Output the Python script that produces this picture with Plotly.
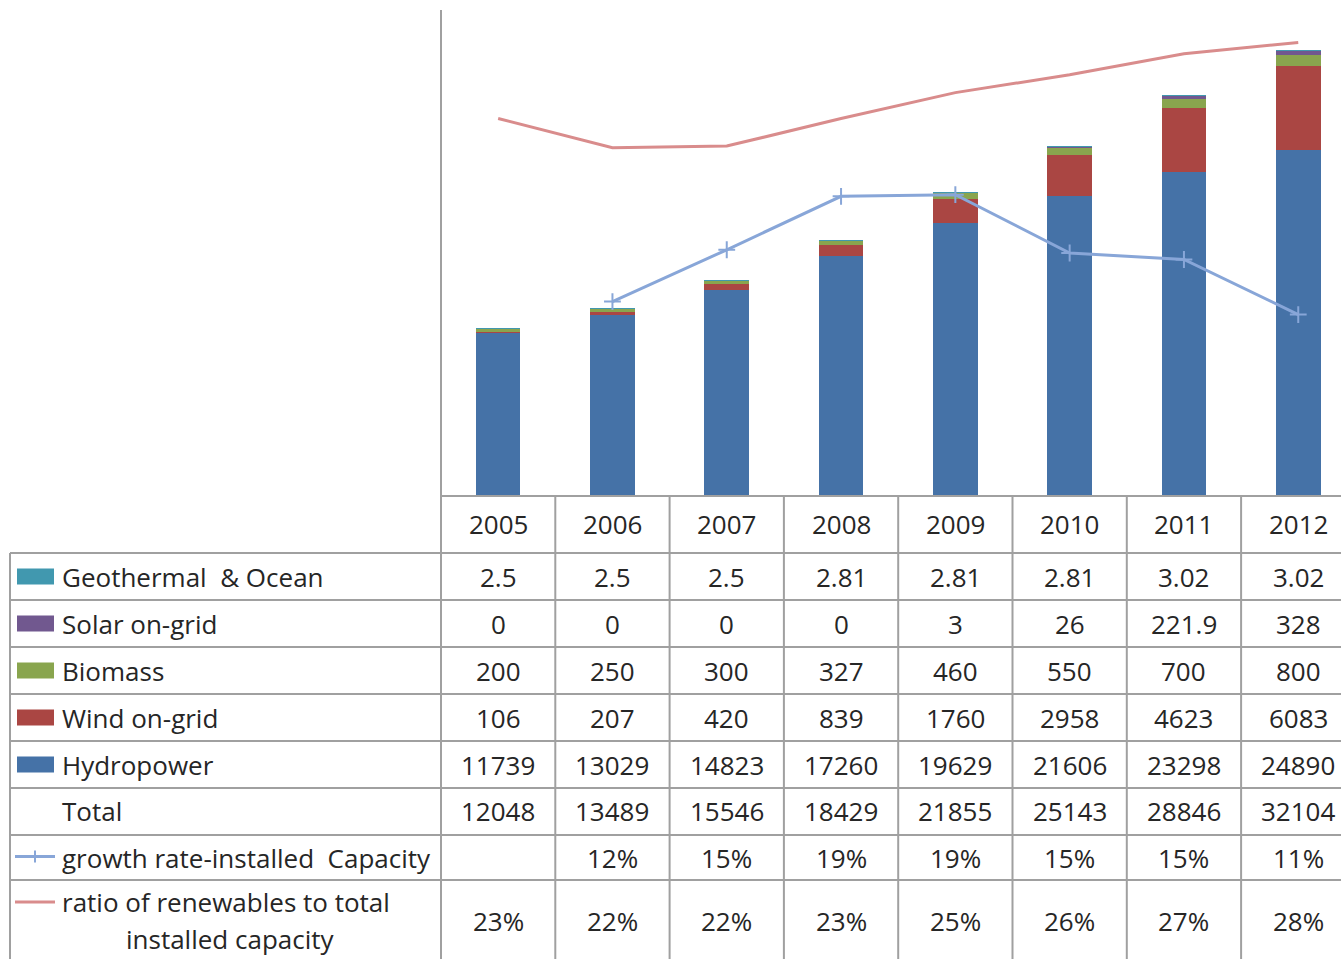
import plotly.graph_objects as go

years = [2005, 2006, 2007, 2008, 2009, 2010, 2011, 2012]
geothermal = [2.5, 2.5, 2.5, 2.81, 2.81, 2.81, 3.02, 3.02]
solar = [0, 0, 0, 0, 3, 26, 221.9, 328]
biomass = [200, 250, 300, 327, 460, 550, 700, 800]
wind = [106, 207, 420, 839, 1760, 2958, 4623, 6083]
hydro = [11739, 13029, 14823, 17260, 19629, 21606, 23298, 24890]
total = [12048, 13489, 15546, 18429, 21855, 25143, 28846, 32104]
growth = [None, 0.120, 0.152, 0.185, 0.186, 0.150, 0.146, 0.112]
ratio = [0.233, 0.215, 0.216, 0.233, 0.249, 0.260, 0.273, 0.280]

geo_txt = ["2.5", "2.5", "2.5", "2.81", "2.81", "2.81", "3.02", "3.02"]
solar_txt = ["0", "0", "0", "0", "3", "26", "221.9", "328"]
growth_txt = ["", "12%", "15%", "19%", "19%", "15%", "15%", "11%"]
ratio_txt = ["23%", "22%", "22%", "23%", "25%", "26%", "27%", "28%"]

C_HYDRO = "#4572A7"
C_WIND = "#AA4643"
C_BIO = "#89A54E"
C_SOLAR = "#71588F"
C_GEO = "#4198AF"
C_GROWTH = "#88A6D8"
C_RATIO = "#D98C8C"
GRID = "#A0A0A0"
TXT = "#262626"
FONT = "Open Sans"
FS = 26

# the page body margin is removed by a small post script, so page px == figure px
W, H = 1341, 959
PL, PT, PB_ = 441, 10, 496          # pixel positions of the plot area
L, T = PL, PT
PW = W - PL
PH = PB_ - PT
B = H - T - PH
COLW = 114.3
XR = [2004.5, 2004.5 + PW / COLW]

fig = go.Figure()
series = [("Hydropower", hydro, C_HYDRO), ("Wind on-grid", wind, C_WIND),
          ("Biomass", biomass, C_BIO), ("Solar on-grid", solar, C_SOLAR),
          ("Geothermal & Ocean", geothermal, C_GEO)]
for name, vals, col in series:
    fig.add_trace(go.Bar(x=years, y=vals, name=name, marker_color=col,
                         marker_line_width=0, width=0.39))
fig.add_trace(go.Scatter(x=years, y=ratio, yaxis="y2", mode="lines",
                         line=dict(color=C_RATIO, width=3), name="ratio"))
fig.add_trace(go.Scatter(x=years, y=growth, yaxis="y2", mode="lines+markers",
                         line=dict(color=C_GROWTH, width=3),
                         marker=dict(symbol="cross-thin", size=12,
                                     line=dict(color=C_GROWTH, width=2)),
                         name="growth"))


def py(p):
    return (PB_ - p) / PH


def pxp(p):
    return (p - PL) / PW


def xyear(v):
    return (v - XR[0]) / (XR[1] - XR[0])


shapes = []
annots = []
line = dict(color=GRID, width=2)
bottom = 975
shapes.append(dict(type="line", xref="paper", yref="paper", x0=0, x1=1,
                   y0=py(496), y1=py(496), line=line))
row_bounds = [553, 600, 647, 694, 741, 788, 835, 880]
for rb in row_bounds:
    shapes.append(dict(type="line", xref="paper", yref="paper", x0=pxp(10), x1=1,
                       y0=py(rb), y1=py(rb), line=line))
shapes.append(dict(type="line", xref="paper", yref="paper", x0=pxp(10), x1=pxp(10),
                   y0=py(553), y1=py(bottom), line=line))
for i, yv in enumerate(years):
    xb = xyear(yv - 0.5)
    shapes.append(dict(type="line", xref="paper", yref="paper", x0=xb, x1=xb,
                       y0=py(496) if i > 0 else py(10), y1=py(bottom), line=line))

for yv in years:
    annots.append(dict(x=xyear(yv), y=py(524), text=str(yv)))

rows = [
    ("Geothermal  & Ocean", geo_txt, "swatch", C_GEO),
    ("Solar on-grid", solar_txt, "swatch", C_SOLAR),
    ("Biomass", [str(v) for v in biomass], "swatch", C_BIO),
    ("Wind on-grid", [str(v) for v in wind], "swatch", C_WIND),
    ("Hydropower", [str(v) for v in hydro], "swatch", C_HYDRO),
    ("Total", [str(v) for v in total], None, None),
    ("growth rate-installed  Capacity", growth_txt, "cross", C_GROWTH),
]
row_centers = [576.5, 623.5, 670.5, 717.5, 764.5, 811.5, 857.5]
for (label, vals, kind, col), yc in zip(rows, row_centers):
    annots.append(dict(x=pxp(60), y=py(yc), text=label, xanchor="left"))
    for yv, t in zip(years, vals):
        if t:
            annots.append(dict(x=xyear(yv), y=py(yc), text=t))
    if kind == "swatch":
        shapes.append(dict(type="rect", xref="paper", yref="paper",
                           x0=pxp(17), x1=pxp(54), y0=py(yc - 8), y1=py(yc + 8),
                           fillcolor=col, line=dict(width=0)))
    elif kind == "cross":
        shapes.append(dict(type="line", xref="paper", yref="paper",
                           x0=pxp(15), x1=pxp(55), y0=py(yc - 1), y1=py(yc - 1),
                           line=dict(color=col, width=3)))
        shapes.append(dict(type="line", xref="paper", yref="paper",
                           x0=pxp(35), x1=pxp(35), y0=py(yc - 7), y1=py(yc + 5),
                           line=dict(color=col, width=2)))

annots.append(dict(x=pxp(60), y=py(902), text="ratio of renewables to total", xanchor="left"))
annots.append(dict(x=pxp(230), y=py(939), text="installed capacity"))
shapes.append(dict(type="line", xref="paper", yref="paper",
                   x0=pxp(15), x1=pxp(55), y0=py(902), y1=py(902),
                   line=dict(color=C_RATIO, width=3)))
for yv, t in zip(years, ratio_txt):
    annots.append(dict(x=xyear(yv), y=py(921), text=t))

for a in annots:
    a.update(xref="paper", yref="paper", showarrow=False,
             font=dict(family=FONT, size=FS, color=TXT))
    a.setdefault("xanchor", "center")
    a["yanchor"] = "middle"

fig.update_layout(
    width=W, height=H,
    margin=dict(l=L, r=0, t=T, b=B, pad=0),
    paper_bgcolor="white", plot_bgcolor="white",
    barmode="stack", showlegend=False,
    xaxis=dict(range=XR, showticklabels=False, showgrid=False, zeroline=False,
               showline=False, ticks=""),
    yaxis=dict(range=[0, 35000], showticklabels=False, showgrid=False,
               zeroline=False, showline=False, ticks=""),
    yaxis2=dict(range=[0, 0.30], overlaying="y", side="right", showticklabels=False,
                showgrid=False, zeroline=False, showline=False, ticks=""),
    shapes=shapes, annotations=annots,
    font=dict(family=FONT, size=FS, color=TXT),
)

fig.write_html("out.html", config={"displayModeBar": False},
               post_script="document.body.style.margin='0px';"
                           "document.body.style.overflow='hidden';")
